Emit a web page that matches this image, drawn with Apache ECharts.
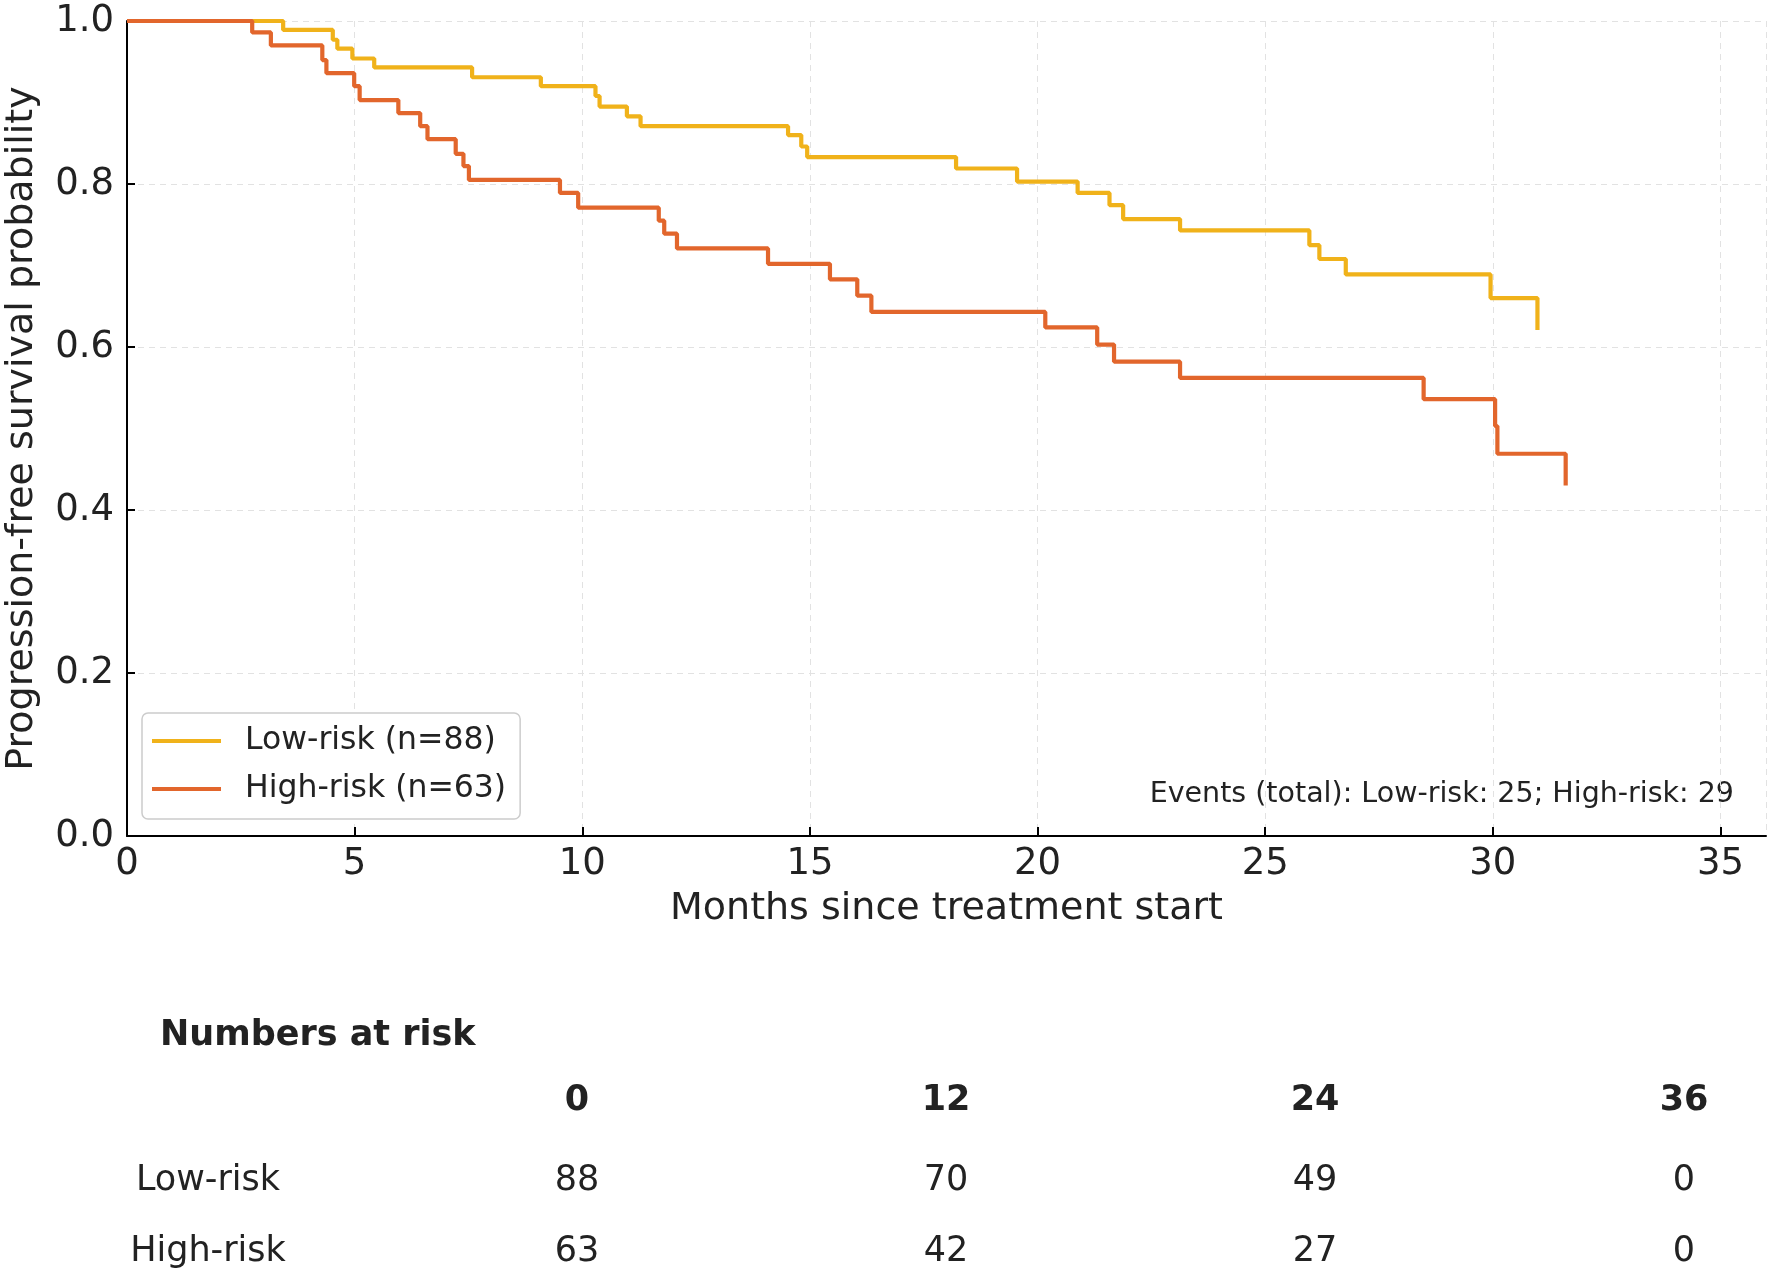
<!DOCTYPE html>
<html>
<head>
<meta charset="utf-8">
<script src="https://cdn.jsdelivr.net/npm/echarts@6/dist/echarts.min.js"></script>
<style>
html,body{margin:0;padding:0;background:#fff;}
#chart{width:1772px;height:1274px;}
</style>
</head>
<body>
<div id="chart"></div>
<script>
// Kaplan-Meier step data: [month, survival probability]
const lowRiskCurve = [
  [0,1.0],[3.43,0.989],[4.52,0.977],[4.62,0.966],[4.95,0.954],[5.43,0.943],
  [7.58,0.931],[9.09,0.920],[10.29,0.908],[10.38,0.895],[10.98,0.883],[11.28,0.871],
  [14.52,0.860],[14.81,0.846],[14.94,0.833],[18.21,0.819],[19.55,0.803],[20.88,0.789],
  [21.58,0.774],[21.88,0.757],[23.13,0.743],[25.97,0.725],[26.19,0.708],[26.77,0.689],
  [29.95,0.660],[30.98,0.621]
];
const highRiskCurve = [
  [0,1.0],[2.75,0.986],[3.16,0.970],[4.29,0.952],[4.38,0.936],[4.99,0.920],[5.11,0.903],
  [5.96,0.887],[6.44,0.871],[6.60,0.855],[7.22,0.837],[7.39,0.822],[7.51,0.805],
  [9.51,0.789],[9.91,0.771],[11.68,0.755],[11.80,0.739],[12.08,0.721],[14.08,0.702],
  [15.44,0.683],[16.04,0.663],[16.35,0.643],[20.17,0.624],[21.31,0.603],[21.68,0.582],
  [23.13,0.562],[28.48,0.536],[30.05,0.503],[30.10,0.469],[31.60,0.430]
];
const seriesNames = ['Low-risk (n=88)', 'High-risk (n=63)'];
const eventsText = 'Events (total): Low-risk: 25; High-risk: 29';
const riskTableTitle = 'Numbers at risk';
const riskTimes = [0, 12, 24, 36];
const riskRowLabels = ['Low-risk', 'High-risk'];
const lowRiskAtRisk = [88, 70, 49, 0];
const highRiskAtRisk = [63, 42, 27, 0];

const FONT = "'DejaVu Sans', sans-serif";
const TXT = '#222';
const colors = ['#F0B21A', '#E2662C'];

// risk table graphics
const colX0 = 208, colStep = 369;
const headerY = 1101, rowY = [1181, 1252];
const TFS = 35;
const tableEls = [];
tableEls.push({type:'text', x:160, y:1036, style:{text:riskTableTitle, font:"bold " + TFS + "px " + FONT, fill:TXT, verticalAlign:'middle'}});
riskTimes.forEach((t, i) => {
  tableEls.push({type:'text', x: colX0 + colStep*(i+1), y: headerY,
    style:{text:String(t), font:"bold " + TFS + "px " + FONT, fill:TXT, align:'center', verticalAlign:'middle'}});
});
const riskRows = [lowRiskAtRisk, highRiskAtRisk];
riskRows.forEach((row, r) => {
  tableEls.push({type:'text', x: colX0, y: rowY[r],
    style:{text:riskRowLabels[r], font:TFS + "px " + FONT, fill:TXT, align:'center', verticalAlign:'middle'}});
  row.forEach((v, i) => {
    tableEls.push({type:'text', x: colX0 + colStep*(i+1), y: rowY[r],
      style:{text:String(v), font:TFS + "px " + FONT, fill:TXT, align:'center', verticalAlign:'middle'}});
  });
});
tableEls.push({type:'text', x: 1734, y: 795,
  style:{text:eventsText, font:"28.5px " + FONT, fill:TXT, align:'right', verticalAlign:'middle'}});

const chart = echarts.init(document.getElementById('chart'));
chart.setOption({
  animation: false,
  backgroundColor: '#fff',
  color: colors,
  grid: {left:127, right:6, top:21, bottom:438, containLabel:false, outerBoundsMode:'none'},
  legend: {
    orient: 'vertical', left: 142, top: 713,
    padding: [10, 14, 12, 10],
    itemGap: 12,
    itemWidth: 69, itemHeight: 4,
    icon: 'rect',
    backgroundColor: '#fff',
    borderColor: '#cccccc', borderWidth: 1.5, borderRadius: 6,
    textStyle: {fontFamily: FONT, fontSize: 31.5, color: TXT, lineHeight: 36, padding: [0,0,0,19]},
    data: seriesNames
  },
  xAxis: {
    type: 'value', min: 0, max: 36, interval: 5,
    name: 'Months since treatment start', nameLocation: 'middle', nameGap: 54,
    nameTextStyle: {fontFamily: FONT, fontSize: 38, color: TXT},
    axisLine: {show: true, onZero: false, lineStyle: {color: '#000', width: 2}},
    axisTick: {show: true, inside: true, length: 9, lineStyle: {color: '#000', width: 2}},
    axisLabel: {fontFamily: FONT, fontSize: 37, color: TXT, margin: 10, showMaxLabel: false,
      formatter: v => (v % 5 === 0 ? String(v) : '')},
    splitLine: {show: true, lineStyle: {color: '#e2e2e2', type: [6, 5], width: 1}}
  },
  yAxis: {
    type: 'value', min: 0, max: 1, interval: 0.2,
    name: 'Progression-free survival probability', nameLocation: 'middle', nameGap: 86,
    nameTextStyle: {fontFamily: FONT, fontSize: 38, color: TXT},
    axisLine: {show: true, lineStyle: {color: '#000', width: 2}},
    axisTick: {show: true, inside: true, length: 8, lineStyle: {color: '#000', width: 2}},
    axisLabel: {fontFamily: FONT, fontSize: 37, color: TXT, margin: 13, formatter: v => v.toFixed(1)},
    splitLine: {show: true, lineStyle: {color: '#e2e2e2', type: [6, 5], width: 1}}
  },
  series: [
    {name: seriesNames[0], type: 'line', step: 'end', data: lowRiskCurve, showSymbol: false,
     lineStyle: {width: 4.2, color: colors[0]}, itemStyle: {color: colors[0]}, z: 3},
    {name: seriesNames[1], type: 'line', step: 'end', data: highRiskCurve, showSymbol: false,
     lineStyle: {width: 4.2, color: colors[1]}, itemStyle: {color: colors[1]}, z: 4}
  ],
  graphic: tableEls
});
</script>
</body>
</html>
